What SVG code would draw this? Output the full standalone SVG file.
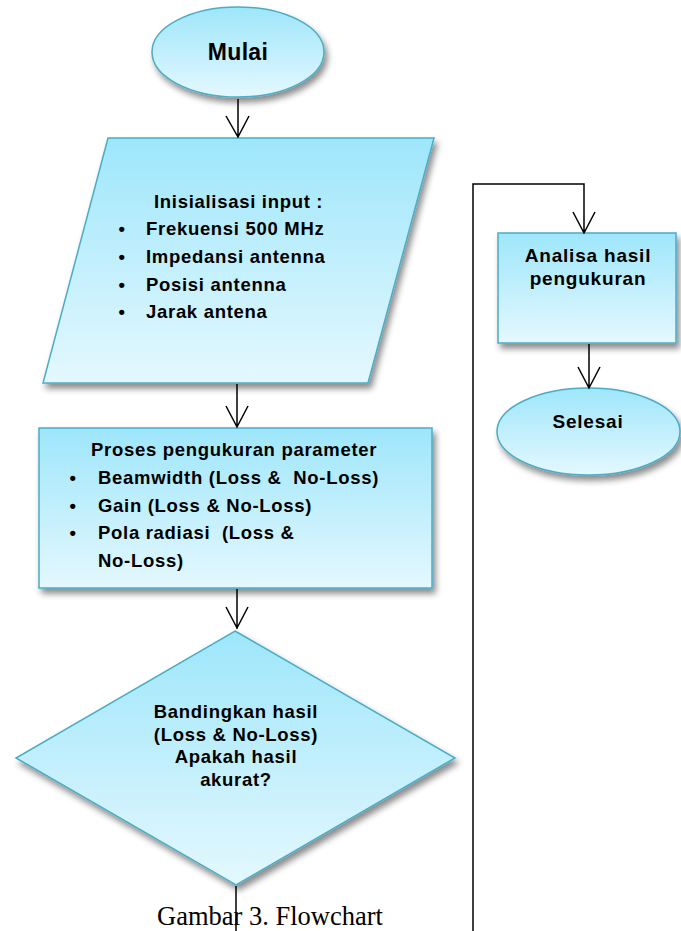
<svg xmlns="http://www.w3.org/2000/svg" width="681" height="931" viewBox="0 0 681 931">
<defs>
<linearGradient id="g" x1="0" y1="0" x2="0" y2="1">
<stop offset="0" stop-color="#9ee6fb"/>
<stop offset="1" stop-color="#e4f8fe"/>
</linearGradient>
<filter id="sh" x="-10%" y="-10%" width="125%" height="130%">
<feDropShadow dx="3" dy="5" stdDeviation="3" flood-color="#000" flood-opacity="0.45"/>
</filter>
<style>
.shape{fill:url(#g);stroke:#4bacc6;stroke-width:1.5;filter:url(#sh)}
.t{font-family:"Liberation Sans",Arial,sans-serif;font-weight:bold;font-size:18.5px;letter-spacing:0.7px;fill:#000}
.tl{font-family:"Liberation Sans",Arial,sans-serif;font-weight:bold;font-size:19px;letter-spacing:0.8px;fill:#000}
.m{text-anchor:middle}
.pre{white-space:pre}
.ln{fill:none;stroke:#000;stroke-width:1.5}
</style>
</defs>
<rect width="681" height="931" fill="#fff"/>

<g id="mulai">
<ellipse class="shape" cx="238" cy="52" rx="86" ry="45"/>
<text x="238" y="60" class="m" style="font-family:'Liberation Sans',Arial,sans-serif;font-weight:bold;font-size:23px;letter-spacing:0.3px">Mulai</text>
</g>

<g id="input">
<polygon class="shape" points="108,138 434,138 368,383 43,383"/>
<text x="154" y="208" class="t">Inisialisasi input :</text>
<text x="122" y="235" class="t m">•</text><text x="146" y="235" class="t">Frekuensi 500 MHz</text>
<text x="122" y="263" class="t m">•</text><text x="146" y="263" class="t">Impedansi antenna</text>
<text x="122" y="291" class="t m">•</text><text x="146" y="291" class="t">Posisi antenna</text>
<text x="122" y="318" class="t m">•</text><text x="146" y="318" class="t">Jarak antena</text>
</g>

<g id="proses">
<rect class="shape" x="39" y="428" width="393" height="160"/>
<text x="91" y="456" class="t">Proses pengukuran parameter</text>
<text x="73" y="484" class="t m">•</text><text x="98" y="484" class="t pre">Beamwidth (Loss &amp;  No-Loss)</text>
<text x="73" y="512" class="t m">•</text><text x="98" y="512" class="t">Gain (Loss &amp; No-Loss)</text>
<text x="73" y="539" class="t m">•</text><text x="98" y="539" class="t pre">Pola radiasi  (Loss &amp;</text>
<text x="98" y="567" class="t">No-Loss)</text>
</g>

<g id="bandingkan">
<polygon class="shape" points="235,631 455,758 236,885 16,758"/>
<text x="236" y="718" class="t m">Bandingkan hasil</text>
<text x="236" y="741" class="t m">(Loss &amp; No-Loss)</text>
<text x="236" y="763" class="t m">Apakah hasil</text>
<text x="236" y="786" class="t m">akurat?</text>
</g>

<g id="analisa">
<rect class="shape" x="498" y="233" width="178" height="110"/>
<text x="588" y="262" class="tl m">Analisa hasil</text>
<text x="588" y="285" class="tl m">pengukuran</text>
</g>

<g id="selesai">
<ellipse class="shape" cx="588.5" cy="431.5" rx="91.5" ry="43.5"/>
<text x="588" y="428" class="tl m">Selesai</text>
</g>

<g id="caption">
<text x="157" y="925" style="font-family:'Liberation Serif','Times New Roman',serif;font-size:26.5px;fill:#000">Gambar 3. Flowchart</text>
</g>

<g id="connectors">
<path class="ln" d="M238,99 V137 M226,116 L238,137 L249,116"/>
<path class="ln" d="M237,384 V427 M226,406 L237,427 L248,406"/>
<path class="ln" d="M237,589 V629 M226,607 L237,628 L248,607"/>
<path class="ln" d="M236,886 V931"/>
<path class="ln" d="M473,931 V184 H584 V232 M573,212 L584,233 L595,212"/>
<path class="ln" d="M589,344 V387 M578,367 L589,388 L600,367"/>
</g>
</svg>
